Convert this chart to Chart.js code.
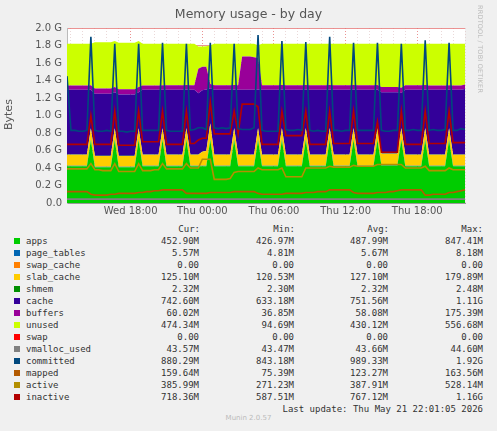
<!DOCTYPE html>
<html><head><meta charset="utf-8">
<script src="https://cdn.jsdelivr.net/npm/chart.js@4/dist/chart.umd.min.js"></script>
<style>
body{margin:0;background:#f0f0f0;width:497px;height:431px;position:relative;overflow:hidden;font-family:"DejaVu Sans",sans-serif}
#c{position:absolute;left:0;top:0}
.t{position:absolute;color:#444}
#leg{position:absolute;left:0;top:223px;font-family:"DejaVu Sans Mono",monospace;font-size:9px;color:#333;line-height:12px}
.row{position:relative;height:12px;width:497px}
.sw{position:absolute;left:14px;top:3px;width:6px;height:6px}
.nm{position:absolute;left:26px}
.v{position:absolute;text-align:right;width:90px}
</style></head><body>
<canvas id="c" width="497" height="220"></canvas>
<div class="t" style="left:0;width:497px;top:6px;text-align:center;font-size:12.5px;color:#555">Memory usage - by day</div>
<div class="t" style="left:2px;top:130px;transform:rotate(-90deg);transform-origin:0 0;font-size:11px;color:#555">Bytes</div>
<div class="t" style="left:484px;top:5px;transform:rotate(90deg);transform-origin:0 0;font-size:6.5px;color:#bbb;white-space:nowrap;letter-spacing:0.2px">RRDTOOL / TOBI OETIKER</div>
<div id="leg"></div>
<div class="t" style="left:0;width:497px;top:414px;text-align:center;font-size:7px;color:#bbb">Munin 2.0.57</div>
<script>
// hours since Wed 00:00, one point every 20 minutes from Wed 12:40 to Thu 22:00
const startHour = 12 + 40/60;
const stepHour = 1/3;
const xTicks = [18, 24, 30, 36, 42];
const xTickLabels = ["Wed 18:00", "Thu 00:00", "Thu 06:00", "Thu 12:00", "Thu 18:00"];
const yTicks = [0,0.2,0.4,0.6,0.8,1.0,1.2,1.4,1.6,1.8,2.0];

// values in GB
const apps = [.42, .42,.42,.42,.42,.42,.72, .41,.41,.41,.41,.41,.72, .41,.41,.41,.41,.41,.72, .42,.42,.42,.42,.42,.72, .42,.42,.42,.42,.42,.72, .42,.42,.42,.42,.42,.72, .42,.42,.42,.42,.42,.72, .42,.42,.42,.42,.42,.72, .42,.42,.42,.42,.42,.72, .42,.42,.42,.42,.42,.72, .42,.42,.42,.42,.42,.72, .42,.42,.42,.42,.42,.72, .42,.42,.42,.42,.42,.72, .43,.43,.43,.43,.43,.72, .42,.42,.42,.42,.42,.72, .42,.42,.42,.42,.42,.72, .42,.42,.42,.42];
const page_tables = [.0056, .0056,.0056,.0056,.0056,.0056,.0082, .0056,.0056,.0056,.0056,.0056,.0082, .0056,.0056,.0056,.0056,.0056,.0082, .0056,.0056,.0056,.0056,.0056,.0082, .0056,.0056,.0056,.0056,.0056,.0082, .0056,.0056,.0056,.0056,.0056,.0082, .0056,.0056,.0056,.0056,.0056,.0082, .0056,.0056,.0056,.0056,.0056,.0082, .0056,.0056,.0056,.0056,.0056,.0082, .0056,.0056,.0056,.0056,.0056,.0082, .0056,.0056,.0056,.0056,.0056,.0082, .0056,.0056,.0056,.0056,.0056,.0082, .0056,.0056,.0056,.0056,.0056,.0082, .0056,.0056,.0056,.0056,.0056,.0082, .0056,.0056,.0056,.0056,.0056,.0082, .0056,.0056,.0056,.0056,.0056,.0082, .0056,.0056,.0056,.0056];
const swap_cache = [0, 0,0,0,0,0,0, 0,0,0,0,0,0, 0,0,0,0,0,0, 0,0,0,0,0,0, 0,0,0,0,0,0, 0,0,0,0,0,0, 0,0,0,0,0,0, 0,0,0,0,0,0, 0,0,0,0,0,0, 0,0,0,0,0,0, 0,0,0,0,0,0, 0,0,0,0,0,0, 0,0,0,0,0,0, 0,0,0,0,0,0, 0,0,0,0,0,0, 0,0,0,0,0,0, 0,0,0,0];
const slab_cache = [.125, .125,.125,.125,.125,.125,.125, .121,.121,.121,.121,.121,.125, .122,.122,.122,.122,.122,.125, .125,.125,.125,.125,.125,.125, .127,.127,.127,.127,.127,.127, .127,.127,.127,.16,.17,.18, .127,.127,.127,.127,.127,.127, .127,.127,.127,.127,.127,.127, .127,.127,.127,.127,.127,.127, .127,.127,.127,.127,.127,.127, .127,.127,.127,.127,.127,.127, .127,.127,.127,.127,.127,.127, .127,.127,.127,.127,.127,.127, .127,.127,.127,.127,.127,.127, .127,.127,.127,.127,.127,.127, .125,.125,.125,.125,.125,.125, .125,.125,.125,.125];
const shmem = [.0023, .0023,.0023,.0023,.0023,.0023,.0023, .0023,.0023,.0023,.0023,.0023,.0023, .0023,.0023,.0023,.0023,.0023,.0023, .0023,.0023,.0023,.0023,.0023,.0023, .0023,.0023,.0023,.0023,.0023,.0023, .0023,.0023,.0023,.0023,.0023,.0023, .0023,.0023,.0023,.0023,.0023,.0023, .0023,.0023,.0023,.0023,.0023,.0023, .0023,.0023,.0023,.0023,.0023,.0023, .0023,.0023,.0023,.0023,.0023,.0023, .0023,.0023,.0023,.0023,.0023,.0023, .0023,.0023,.0023,.0023,.0023,.0023, .0023,.0023,.0023,.0023,.0023,.0023, .0023,.0023,.0023,.0023,.0023,.0023, .0023,.0023,.0023,.0023,.0023,.0023, .0023,.0023,.0023,.0023,.0023,.0023, .0023,.0023,.0023,.0023];
const cache = [.74, .74,.74,.74,.74,.74,.44, .71,.71,.71,.71,.71,.41, .70,.70,.70,.70,.70,.41, .74,.74,.74,.74,.74,.44, .74,.74,.74,.74,.74,.44, .74,.74,.70,.70,.70,.40, .74,.74,.74,.74,.74,.44, .74,.74,.74,.74,.74,.44, .74,.74,.74,.74,.74,.44, .74,.74,.74,.74,.74,.44, .74,.74,.74,.74,.74,.44, .74,.74,.74,.74,.74,.44, .74,.74,.74,.74,.74,.44, .70,.70,.70,.70,.70,.40, .74,.74,.74,.74,.74,.44, .74,.74,.74,.74,.74,.44, .74,.74,.74,.75];
const buffers = [.05, .05,.05,.05,.05,.05,.05, .06,.06,.06,.06,.06,.06, .06,.06,.06,.06,.06,.06, .05,.05,.05,.05,.05,.05, .05,.05,.05,.05,.05,.05, .05,.05,.28,.27,.26,.05, .05,.05,.05,.05,.05,.05, .05,.38,.38,.38,.37,.36, .05,.05,.05,.05,.05,.05, .05,.05,.05,.05,.05,.05, .05,.05,.05,.05,.05,.05, .05,.05,.05,.05,.05,.05, .05,.05,.05,.05,.05,.05, .06,.06,.06,.06,.06,.06, .05,.05,.05,.05,.05,.05, .05,.05,.05,.05,.05,.05, .05,.05,.05,.05];
const unused = [.477, .477,.477,.477,.477,.477,.474, .527,.527,.527,.527,.527,.526, .532,.532,.532,.532,.532,.526, .477,.477,.477,.477,.477,.474, .475,.475,.475,.475,.475,.472, .475,.475,.255,.232,.233,.442, .475,.475,.475,.475,.475,.472, .475,.145,.145,.145,.155,.145, .475,.475,.475,.475,.475,.472, .475,.475,.475,.475,.475,.472, .475,.475,.475,.475,.475,.472, .475,.475,.475,.475,.475,.472, .475,.475,.475,.475,.475,.472, .495,.495,.495,.495,.495,.502, .475,.475,.475,.475,.475,.472, .477,.477,.477,.477,.477,.474, .477,.477,.477,.467];
const swap = [0, 0,0,0,0,0,0, 0,0,0,0,0,0, 0,0,0,0,0,0, 0,0,0,0,0,0, 0,0,0,0,0,0, 0,0,0,0,0,0, 0,0,0,0,0,0, 0,0,0,0,0,0, 0,0,0,0,0,0, 0,0,0,0,0,0, 0,0,0,0,0,0, 0,0,0,0,0,0, 0,0,0,0,0,0, 0,0,0,0,0,0, 0,0,0,0,0,0, 0,0,0,0,0,0, 0,0,0,0];
const vmalloc_used = [.044, .044,.044,.044,.044,.044,.044, .044,.044,.044,.044,.044,.044, .044,.044,.044,.044,.044,.044, .044,.044,.044,.044,.044,.044, .044,.044,.044,.044,.044,.044, .044,.044,.044,.044,.044,.044, .044,.044,.044,.044,.044,.044, .044,.044,.044,.044,.044,.044, .044,.044,.044,.044,.044,.044, .044,.044,.044,.044,.044,.044, .044,.044,.044,.044,.044,.044, .044,.044,.044,.044,.044,.044, .044,.044,.044,.044,.044,.044, .044,.044,.044,.044,.044,.044, .044,.044,.044,.044,.044,.044, .044,.044,.044,.044,.044,.044, .044,.044,.044,.044];
const committed = [1.45, .83,.83,.82,.82,.83,1.90, .83,.82,.82,.83,.82,1.82, .82,.82,.81,.82,.82,1.82, .83,.83,.83,.83,.83,1.83, .83,.82,.82,.82,.82,1.82, .83,.84,.86,.86,.84,1.83, .86,.85,.86,.85,.86,1.82, .85,.84,.84,.84,.86,1.92, .83,.82,.82,.82,.82,1.85, .84,.83,.83,.84,.83,1.84, .83,.82,.83,.82,.82,1.90, .83,.83,.82,.83,.83,1.83, .83,.83,.83,.83,.83,1.83, .83,.82,.82,.83,.83,1.82, .83,.83,.84,.83,.83,1.86, .83,.84,.83,.83,.84,1.83, .83,.83,.85,.84];
const mapped = [.13, .13,.13,.13,.13,.13,.10, .09,.09,.09,.09,.10,.10, .11,.11,.11,.11,.11,.12, .12,.13,.13,.14,.14,.15, .15,.15,.15,.15,.15,.11, .11,.11,.11,.11,.11,.12, .12,.12,.12,.12,.12,.13, .13,.13,.13,.13,.13,.11, .10,.10,.10,.10,.10,.10, .11,.11,.11,.11,.11,.12, .12,.12,.13,.13,.13,.15, .15,.15,.15,.15,.15,.12, .11,.11,.11,.11,.11,.12, .12,.12,.13,.13,.14,.15, .15,.15,.15,.15,.15,.09, .09,.10,.10,.10,.10,.12, .12,.13,.14,.15];
const active = [.39, .39,.39,.39,.39,.39,.45, .38,.38,.37,.37,.37,.45, .36,.36,.36,.36,.36,.45, .37,.37,.37,.38,.38,.45, .39,.39,.39,.39,.39,.45, .40,.40,.40,.50,.50,.50, .27,.27,.27,.27,.28,.35, .36,.36,.36,.36,.36,.40, .38,.38,.38,.38,.38,.40, .30,.30,.30,.30,.30,.40, .40,.40,.40,.40,.40,.42, .41,.41,.41,.41,.41,.43, .42,.42,.42,.42,.42,.44, .44,.44,.44,.44,.44,.44, .40,.40,.40,.40,.40,.42, .37,.37,.37,.37,.37,.40, .38,.38,.38,.38];
const inactive = [.67, .67,.67,.67,.67,.67,1.00, .67,.67,.67,.67,.67,1.05, .66,.66,.66,.66,.66,1.05, .70,.70,.70,.70,.70,1.05, .67,.67,.67,.67,.67,1.05, .68,.68,.72,.74,.74,1.15, .79,.79,.79,.79,.79,1.05, .79,1.13,1.13,1.13,1.13,1.10, .67,.67,.67,.67,.67,1.05, .77,.77,.77,.77,.77,1.05, .67,.67,.67,.67,.67,1.05, .68,.68,.68,.68,.68,1.05, .68,.68,.68,.68,.68,.93, .58,.58,.58,.58,.58,1.05, .67,.67,.67,.67,.67,1.05, .68,.68,.68,.68,.68,1.05, .69,.69,.69,.69];

const stacked = [
  ["apps", apps, "#00CC00"], ["page_tables", page_tables, "#0066B3"], ["swap_cache", swap_cache, "#FF8000"],
  ["slab_cache", slab_cache, "#FFCC00"], ["shmem", shmem, "#008F00"], ["cache", cache, "#330099"],
  ["buffers", buffers, "#990099"], ["unused", unused, "#CCFF00"], ["swap", swap, "#FF0000"]
];
const lines = [
  ["vmalloc_used", vmalloc_used, "#808080"], ["committed", committed, "#00487D"], ["mapped", mapped, "#B35A00"],
  ["active", active, "#B38F00"], ["inactive", inactive, "#B30000"]
];
const legendVals = {
  apps:["452.90M","426.97M","487.99M","847.41M"], page_tables:["5.57M","4.81M","5.67M","8.18M"],
  swap_cache:["0.00","0.00","0.00","0.00"], slab_cache:["125.10M","120.53M","127.10M","179.89M"],
  shmem:["2.32M","2.30M","2.32M","2.48M"], cache:["742.60M","633.18M","751.56M","1.11G"],
  buffers:["60.02M","36.85M","58.08M","175.39M"], unused:["474.34M","94.69M","430.12M","556.68M"],
  swap:["0.00","0.00","0.00","0.00"], vmalloc_used:["43.57M","43.47M","43.66M","44.60M"],
  committed:["880.29M","843.18M","989.33M","1.92G"], mapped:["159.64M","75.39M","123.27M","163.56M"],
  active:["385.99M","271.23M","387.91M","528.14M"], inactive:["718.36M","587.51M","767.12M","1.16G"]
};

const toXY = arr => arr.map((v,i) => ({x: startHour + i*stepHour, y: v}));
const datasets = [];
stacked.forEach(([n, d, c], i) => datasets.push({label:n, data:toXY(d), backgroundColor:c, borderColor:c, borderWidth:0,
  fill: i===0 ? 'origin' : '-1', stack:'mem', order:2, pointRadius:0, tension:0}));
lines.forEach(([n, d, c]) => datasets.push({label:n, data:toXY(d), borderColor:c, backgroundColor:c, borderWidth:1.6,
  fill:false, stack:'l_'+n, order:1, pointRadius:0, tension:0}));

const bgPlugin = {id:'bg', beforeDraw(ch){const a=ch.chartArea,g=ch.ctx;g.save();g.fillStyle='#fff';g.fillRect(a.left,a.top,a.right-a.left,a.bottom-a.top);g.restore();}};
const hourTicks = []; for (let h=13; h<=46; h++) hourTicks.push(h);

new Chart(document.getElementById('c'), {
  type:'line', data:{datasets},
  plugins:[bgPlugin],
  options:{
    animation:false, responsive:false, devicePixelRatio:1,
    layout:{padding:{top:28, right:32, left:0, bottom:0}},
    plugins:{legend:{display:false}, title:{display:false}, tooltip:{enabled:false}},
    scales:{
      x:{type:'linear', min:startHour, max:startHour + 100*stepHour,
        afterBuildTicks(ax){ax.ticks = hourTicks.map(v=>({value:v}));},
        afterFit(ax){ax.height = 17;},
        ticks:{autoSkip:false, maxRotation:0, padding:2, color:'#555', font:{family:'DejaVu Sans', size:10},
          callback:v => { const k = xTicks.indexOf(v); return k>=0 ? xTickLabels[k] : ''; }},
        grid:{color: c => xTicks.includes(c.tick && c.tick.value) ? 'rgba(230,120,120,0.8)' : 'rgba(220,190,190,0.6)', lineWidth:1, drawTicks:false, tickLength:0},
        border:{display:true, color:'#999', dash:[1,2]}
      },
      y:{stacked:true, min:0, max:2.0,
        afterBuildTicks(ax){ax.ticks = yTicks.map(v=>({value:v}));},
        afterFit(ax){ax.width = 67;},
        ticks:{color:'#555', padding:5, font:{family:'DejaVu Sans', size:10},
          callback:v => v===0 ? '0.0' : v.toFixed(1)+' G'},
        grid:{color:'rgba(230,120,120,0.8)', lineWidth:1, drawTicks:false},
        border:{display:true, color:'#bbb'}
      }
    }
  }
});

const leg = document.getElementById('leg');
let html = '<div class="row"><span class="v" style="left:110px">Cur:</span><span class="v" style="left:205px">Min:</span><span class="v" style="left:299px">Avg:</span><span class="v" style="left:393px">Max:</span></div>';
[...stacked, ...lines].forEach(([n,,c]) => {
  const v = legendVals[n];
  html += `<div class="row"><span class="sw" style="background:${c}"></span><span class="nm">${n}</span>` +
    `<span class="v" style="left:109px">${v[0]}</span><span class="v" style="left:204px">${v[1]}</span><span class="v" style="left:298px">${v[2]}</span><span class="v" style="left:393px">${v[3]}</span></div>`;
});
html += '<div class="row"><span class="v" style="left:183px;width:300px">Last update: Thu May 21 22:01:05 2026</span></div>';
leg.innerHTML = html;
</script></body></html>
